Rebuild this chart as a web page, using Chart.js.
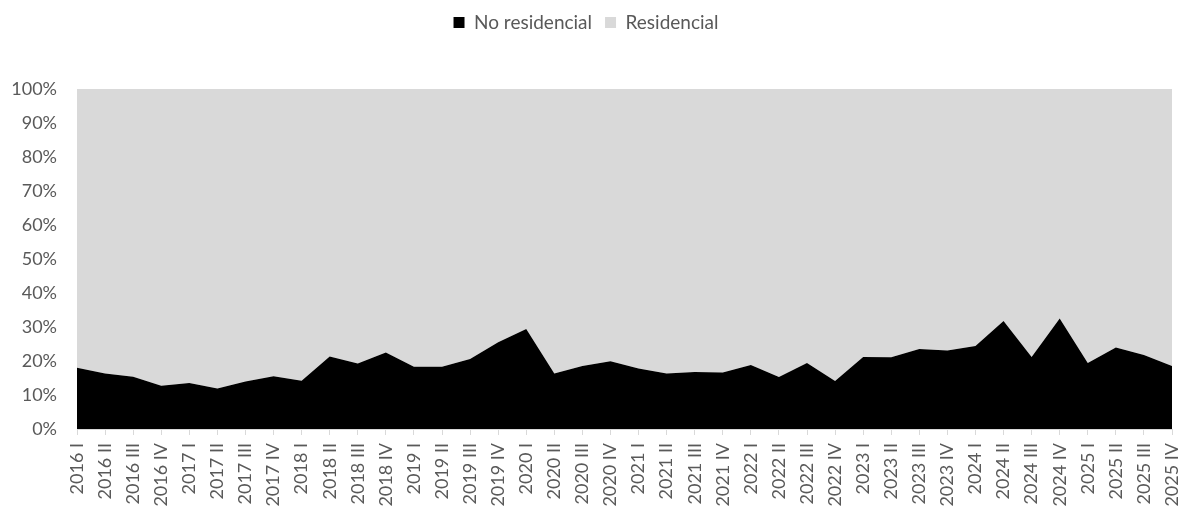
<!DOCTYPE html>
<html>
<head>
<meta charset="utf-8">
<script src="https://cdn.jsdelivr.net/npm/chart.js@4/dist/chart.umd.min.js"></script>
<style>
  html, body { margin: 0; padding: 0; background: #ffffff; }
  #wrap { width: 1182px; height: 508px; position: relative; }
</style>
</head>
<body>
<div id="wrap"><canvas id="chart"></canvas></div>
<script>
// Trimestres 2016 I .. 2025 IV
const quarters = ['I', 'II', 'III', 'IV'];
const years = [2016, 2017, 2018, 2019, 2020, 2021, 2022, 2023, 2024, 2025];
const labels = [];
years.forEach(y => quarters.forEach(q => labels.push(y + ' ' + q)));

// Participación no residencial (%)
const noResidencial = [
  18.0, 16.3, 15.4, 12.7, 13.5, 11.9, 14.0, 15.5, 14.2, 21.3,
  19.3, 22.5, 18.3, 18.3, 20.6, 25.5, 29.4, 16.3, 18.5, 19.9,
  17.8, 16.3, 16.8, 16.6, 18.8, 15.3, 19.4, 14.1, 21.2, 21.1,
  23.5, 23.1, 24.4, 31.8, 21.2, 32.5, 19.4, 24.0, 21.8, 18.5
];
// El resto hasta 100% corresponde a residencial
const residencial = noResidencial.map(v => 100 - v);

const yTicks = [0, 10, 20, 30, 40, 50, 60, 70, 80, 90, 100];

const textColor = '#595959';
const tickFont = { family: 'Lato, "Open Sans", sans-serif', size: 18 };
const legendFont = { family: 'Lato, "Open Sans", sans-serif', size: 19 };

// separa la leyenda del área de trazado
const legendGap = {
  id: 'legendGap',
  beforeInit(chart) {
    const fit = chart.legend.fit;
    chart.legend.fit = function () {
      fit.bind(chart.legend)();
      this.height += 47;
    };
  }
};

const ctx = document.getElementById('chart').getContext('2d');
new Chart(ctx, {
  type: 'line',
  data: {
    labels: labels,
    datasets: [
      {
        label: 'No residencial',
        data: noResidencial,
        backgroundColor: '#000000',
        borderColor: '#000000',
        borderWidth: 0,
        pointRadius: 0,
        fill: 'origin',
        tension: 0
      },
      {
        label: 'Residencial',
        data: residencial,
        backgroundColor: '#d9d9d9',
        borderColor: '#d9d9d9',
        borderWidth: 0,
        pointRadius: 0,
        fill: '-1',
        tension: 0
      }
    ]
  },
  plugins: [legendGap],
  options: {
    responsive: true,
    maintainAspectRatio: false,
    animation: false,
    layout: { padding: { left: 0, right: 10, top: 0, bottom: 0 } },
    plugins: {
      legend: {
        display: true,
        position: 'top',
        labels: {
          color: textColor,
          font: legendFont,
          boxWidth: 11,
          boxHeight: 11,
          padding: 13
        }
      },
      tooltip: { enabled: false }
    },
    scales: {
      x: {
        offset: false,
        // las etiquetas quedan recortadas por abajo, como en el original
        afterFit: axis => { axis.paddingLeft = 0; axis.paddingRight = 0; axis.height = 79; },
        grid: {
          display: true,
          drawOnChartArea: false,
          drawTicks: true,
          tickLength: 6,
          color: '#d9d9d9'
        },
        border: { display: true, color: '#d9d9d9' },
        ticks: {
          color: textColor,
          font: tickFont,
          autoSkip: false,
          maxRotation: 90,
          minRotation: 90,
          padding: 8
        }
      },
      y: {
        stacked: true,
        min: 0,
        max: 100,
        afterBuildTicks: axis => { axis.ticks = yTicks.map(v => ({ value: v })); },
        afterFit: axis => { axis.width = 77; },
        grid: { display: false, drawTicks: false },
        border: { display: false },
        ticks: {
          color: textColor,
          font: tickFont,
          padding: 20,
          callback: v => v + '%'
        }
      }
    }
  }
});
</script>
</body>
</html>
